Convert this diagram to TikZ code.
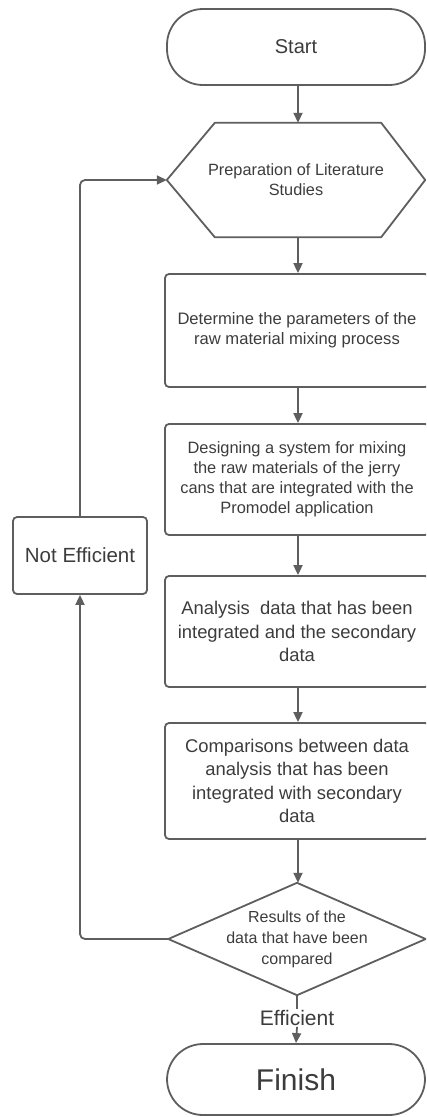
\documentclass[tikz,border=0pt]{standalone}
\usepackage{fontspec}
\setmainfont{Liberation Sans}
\usetikzlibrary{arrows.meta}
\definecolor{linec}{HTML}{5E5E5E}
\definecolor{textc}{HTML}{3C3C3C}
\tikzset{
  every node/.style={text=textc, align=center, inner sep=0pt},
  terminal/.style={draw=linec, line width=1.8pt, rectangle, rounded corners=36pt, minimum width=258pt},
  procbox/.style={draw=linec, line width=1.8pt, rectangle, rounded corners=4pt, minimum width=264pt},
  shapeholder/.style={draw=none, rectangle},
  shapeline/.style={draw=linec, line width=1.8pt, line join=round},
  flow/.style={draw=linec, line width=1.8pt, -{Triangle[length=10pt,width=9pt]}},
  flowplain/.style={draw=linec, line width=1.8pt},
}
\begin{document}
\begin{tikzpicture}[x=1pt,y=1pt]
\useasboundingbox (0,0) rectangle (426,-1117);
\begin{scope}
\clip (0,0) rectangle (426,-1117);
\node[terminal, minimum height=76pt, font=\fontsize{20}{24}\selectfont] (start) at (296,-47) {Start};
\node[shapeholder, minimum width=258pt, minimum height=114pt, font=\fontsize{16.3}{20}\selectfont] (prep) at (296,-180) {Preparation of Literature\\Studies};
\draw[shapeline] ([xshift=48pt]prep.north west) -- ([xshift=-44pt]prep.north east) -- (prep.east) -- ([xshift=-44pt]prep.south east) -- ([xshift=48pt]prep.south west) -- (prep.west) -- cycle;
\node[procbox, minimum height=113pt, font=\fontsize{16.6}{20}\selectfont] (r1) at (297,-330.5) {Determine the parameters of the\\raw material mixing process};
\node[procbox, minimum height=111pt, font=\fontsize{16.4}{20}\selectfont] (r2) at (297,-479.5) {Designing a system for mixing\\the raw materials of the jerry\\cans that are integrated with the\\Promodel application};
\node[procbox, minimum height=111pt, font=\fontsize{18.4}{23.3}\selectfont] (r3) at (297,-631.5) {Analysis\ \ data that has been\\integrated and the secondary\\data};
\node[procbox, minimum height=116pt, font=\fontsize{18.4}{23.3}\selectfont] (r4) at (297,-781) {Comparisons between data\\analysis that has been\\integrated with secondary\\data};
\node[shapeholder, minimum width=257pt, minimum height=112pt, font=\fontsize{16}{21}\selectfont] (dec) at (297,-939) {Results of the\\data that have been\\compared};
\draw[shapeline] (dec.north) -- (dec.east) -- (dec.south) -- (dec.west) -- cycle;
\node[terminal, minimum height=71pt, font=\fontsize{30}{36}\selectfont] (fin) at (296,-1079.5) {Finish};
\node[procbox, minimum width=134pt, minimum height=77pt, font=\fontsize{20.5}{24}\selectfont] (ne) at (80,-555.5) {Not Efficient};
\node[fill=white, inner sep=1pt, font=\fontsize{21}{24}\selectfont] (eff) at (297,-1018) {Efficient};
\end{scope}
\draw[flow] (start.south -| 298,0) -- (prep.north -| 298,0);
\draw[flow] (prep.south -| 298,0) -- (r1.north -| 298,0);
\draw[flow] (r1.south -| 298,0) -- (r2.north -| 298,0);
\draw[flow] (r2.south -| 298,0) -- (r3.north -| 298,0);
\draw[flow] (r3.south -| 298,0) -- (r4.north -| 298,0);
\draw[flow] (r4.south -| 298,0) -- (dec.north -| 298,0);
\draw[flowplain] (dec.south) -- (eff.north);
\draw[flow] (eff.south) -- (fin.north);
\draw[flow, rounded corners=5pt] (dec.west) -| (ne.south);
\draw[flow, rounded corners=5pt] (ne.north) |- (prep.west);
\end{tikzpicture}
\end{document}
